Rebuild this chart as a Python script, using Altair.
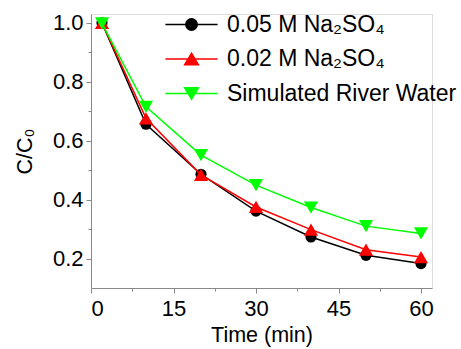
import altair as alt
import pandas as pd

# Time points (min) and normalised concentration C/C0 for each medium
time_min = [2, 10, 20, 30, 40, 50, 60]
c_na2so4_005 = [1.000, 0.656, 0.486, 0.361, 0.273, 0.211, 0.183]
c_na2so4_002 = [1.000, 0.676, 0.484, 0.375, 0.298, 0.230, 0.205]
c_river = [0.998, 0.715, 0.551, 0.449, 0.373, 0.310, 0.285]

series_names = ["0.05 M Na\u2082SO\u2084", "0.02 M Na\u2082SO\u2084", "Simulated River Water"]
series_colors = ["#000000", "#ff0000", "#00ff00"]
series_shapes = ["circle", "triangle-up", "triangle-down"]

x_major = [0, 15, 30, 45, 60]
x_minor = [7.5, 22.5, 37.5, 52.5]
y_major = [0.2, 0.4, 0.6, 0.8, 1.0]
y_minor = [0.3, 0.5, 0.7, 0.9]

rows = []
for name, vals in zip(series_names, [c_na2so4_005, c_na2so4_002, c_river]):
    for t, v in zip(time_min, vals):
        rows.append({"time": t, "ratio": v, "series": name})
df = pd.DataFrame(rows)

FONT = "Liberation Sans"
AX = "#595959"

x_scale = alt.Scale(domain=[0, 62], nice=False, zero=False)
y_scale = alt.Scale(domain=[0.1, 1.03], nice=False, zero=False)
color_scale = alt.Scale(domain=series_names, range=series_colors)

major_x_axis = alt.Axis(values=x_major, title="Time (min)", format="d", grid=False,
                        orient="bottom", labelFontSize=22, titleFontSize=21.5,
                        titleFontWeight="normal", labelPadding=5, titlePadding=5,
                        tickSize=5)
major_y_axis = alt.Axis(values=y_major, title="C/C\u2080", format=".1f", grid=False,
                        orient="left", labelFontSize=22, titleFontSize=21.5,
                        titleFontWeight="normal", labelPadding=3, titlePadding=16,
                        tickSize=5)
minor_x_axis = alt.Axis(values=x_minor, title=None, labels=False, domain=False,
                        grid=False, orient="bottom", tickSize=3)
minor_y_axis = alt.Axis(values=y_minor, title=None, labels=False, domain=False,
                        grid=False, orient="left", tickSize=3)

# Legend symbols: a short line with the marker on it
legend_paths = [
    "M-4.35,0H4.35M-0.95,0A0.95,0.95,0,1,1,0.95,0A0.95,0.95,0,1,1,-0.95,0Z",
    "M-4.35,0H4.35M0,-0.95L-1.15,0.95L1.15,0.95Z",
    "M-4.35,0H4.35M0,0.95L-1.15,-0.95L1.15,-0.95Z",
]
legend_cfg = alt.Legend(title=None, orient="none", legendX=89, legendY=-1,
                        labelFontSize=23, labelFont=FONT, labelColor="black",
                        labelOffset=24, labelLimit=400, rowPadding=10.5,
                        symbolSize=144, symbolStrokeWidth=1.5, padding=0)

# Invisible layer that carries the legend and the minor ticks
key_layer = alt.Chart(df).mark_point(filled=True, size=0, opacity=1).encode(
    x=alt.X("time:Q", scale=x_scale, axis=minor_x_axis),
    y=alt.Y("ratio:Q", scale=y_scale, axis=minor_y_axis),
    color=alt.Color("series:N", scale=color_scale, legend=legend_cfg),
    stroke=alt.Stroke("series:N", scale=color_scale, legend=legend_cfg),
    shape=alt.Shape("series:N", scale=alt.Scale(domain=series_names, range=legend_paths),
                    legend=legend_cfg),
)

layers = [key_layer]
for i, (name, shape) in enumerate(zip(series_names, series_shapes)):
    sub = df[df["series"] == name]
    xa = major_x_axis if i == 0 else None
    ya = major_y_axis if i == 0 else None
    line = alt.Chart(sub).mark_line(strokeWidth=1.5).encode(
        x=alt.X("time:Q", scale=x_scale, axis=xa),
        y=alt.Y("ratio:Q", scale=y_scale, axis=ya),
        color=alt.Color("series:N", scale=color_scale, legend=None),
    )
    size = 125 if shape == "circle" else 200
    pts = alt.Chart(sub).mark_point(filled=True, shape=shape, size=size, opacity=1).encode(
        x=alt.X("time:Q", scale=x_scale, axis=None),
        y=alt.Y("ratio:Q", scale=y_scale, axis=None),
        color=alt.Color("series:N", scale=color_scale, legend=None),
    )
    layers += [line, pts]

chart = alt.layer(*layers).resolve_axis(x="independent", y="independent").properties(
    width=341, height=274,
    padding={"left": 91, "top": 14, "right": 29, "bottom": 61},
    autosize="none",
).configure_view(stroke=None).configure_axis(
    grid=False, domainColor=AX, domainWidth=1.5, tickColor=AX, tickWidth=1.5,
    labelFont=FONT, titleFont=FONT, labelColor="black", titleColor="black",
).configure(background="white")

chart.save("out.html", embed_options={"renderer": "svg", "actions": False})
